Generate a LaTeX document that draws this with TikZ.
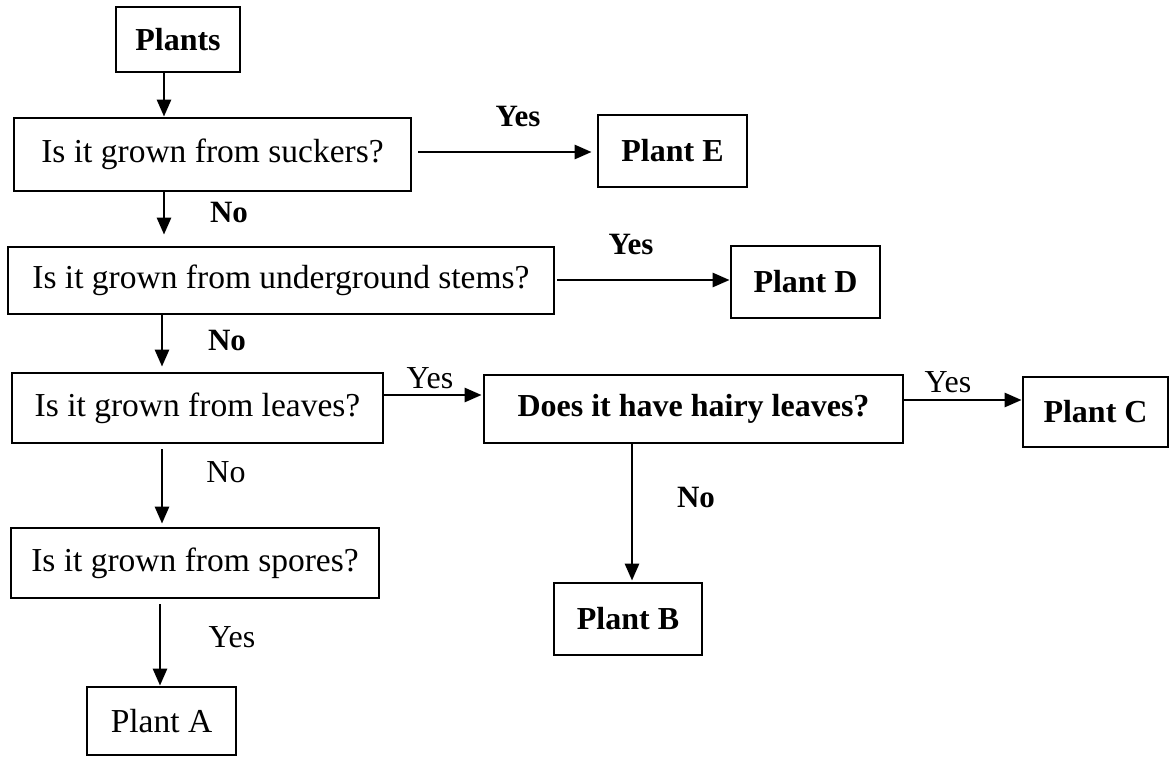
\documentclass[tikz,border=0pt]{standalone}
\usepackage{fontspec}
\setmainfont{Liberation Serif}
\usetikzlibrary{arrows.meta}
\begin{document}
\begin{tikzpicture}[x=1pt,y=-1pt,
  box/.style={draw=black, line width=2.8pt, inner sep=0pt, anchor=center, font=\fontsize{33.5}{38}\selectfont},
  boldbox/.style={box, font=\fontsize{32}{38}\selectfont\bfseries},
  lbl/.style={font=\fontsize{32}{38}\selectfont, inner sep=0pt, anchor=center},
  blbl/.style={lbl, font=\fontsize{31}{38}\selectfont\bfseries},
  arr/.style={line width=2.8pt, -{Triangle[length=17pt,width=14pt]}}]
\useasboundingbox (0,0) rectangle (1170,757);
\fill[white] (0,0) rectangle (1170,757);

\node[boldbox, minimum width=124pt, minimum height=65pt] (plants) at (178,39.5) {Plants};
\node[box, minimum width=397pt, minimum height=73pt] (suckers) at (212.5,154.5) {Is it grown from suckers?};
\node[boldbox, minimum width=149pt, minimum height=72pt] (plantE) at (672.5,151) {Plant E};
\node[box, minimum width=546pt, minimum height=67pt] (under) at (281,280.5) {Is it grown from underground stems?};
\node[boldbox, minimum width=149pt, minimum height=72pt] (plantD) at (805.5,282) {Plant D};
\node[box, minimum width=371pt, minimum height=70pt] (leaves) at (197.5,408) {Is it grown from leaves?};
\node[boldbox, minimum width=419pt, minimum height=68pt] (hairy) at (693.5,409) {Does it have hairy leaves?};
\node[boldbox, minimum width=145pt, minimum height=70pt] (plantC) at (1095.5,412) {Plant C};
\node[box, minimum width=368pt, minimum height=70pt] (spores) at (195,563) {Is it grown from spores?};
\node[boldbox, minimum width=148pt, minimum height=72pt] (plantB) at (628,619) {Plant B};
\node[box, minimum width=149pt, minimum height=68pt] (plantA) at (161.5,721) {Plant A};

% connectors
\draw[arr] ([xshift=-14pt]plants.south) -- ([xshift=-48.5pt]suckers.north);
\draw[arr] ([xshift=-48.5pt]suckers.south) -- ([xshift=-117pt,yshift=11pt]under.north);
\draw[arr] ([xshift=6pt,yshift=2.5pt]suckers.east) -- ([xshift=-5pt,yshift=-1pt]plantE.west);
\draw[arr] ([xshift=2pt,yshift=0.5pt]under.east) -- ([yshift=2pt]plantD.west);
\draw[arr] ([xshift=-119pt]under.south) -- ([xshift=-35.5pt,yshift=5pt]leaves.north);
\draw[arr] ([yshift=13pt]leaves.east) -- ([xshift=-1pt,yshift=14pt]hairy.west);
\draw[arr] ([yshift=9pt]hairy.east) -- ([yshift=12pt]plantC.west);
\draw[arr] ([xshift=-35.5pt,yshift=-5pt]leaves.south) -- ([xshift=-33pt,yshift=3pt]spores.north);
\draw[arr] ([xshift=-61.5pt]hairy.south) -- ([xshift=4pt,yshift=1pt]plantB.north);
\draw[arr] ([xshift=-35pt,yshift=-5pt]spores.south) -- ([xshift=-1.5pt]plantA.north);

% labels
\node[blbl] (y1) at (518,117) {Yes};
\node[blbl] (n1) at (229,213) {No};
\node[blbl] (y2) at (631,245) {Yes};
\node[blbl] (n2) at (227,340) {No};
\node[lbl] (y3) at (430,378) {Yes};
\node[lbl] (y4) at (948,382) {Yes};
\node[lbl] (n3) at (226,472) {No};
\node[blbl] (n4) at (696,497) {No};
\node[lbl] (y5) at (232,637) {Yes};
\end{tikzpicture}
\end{document}
